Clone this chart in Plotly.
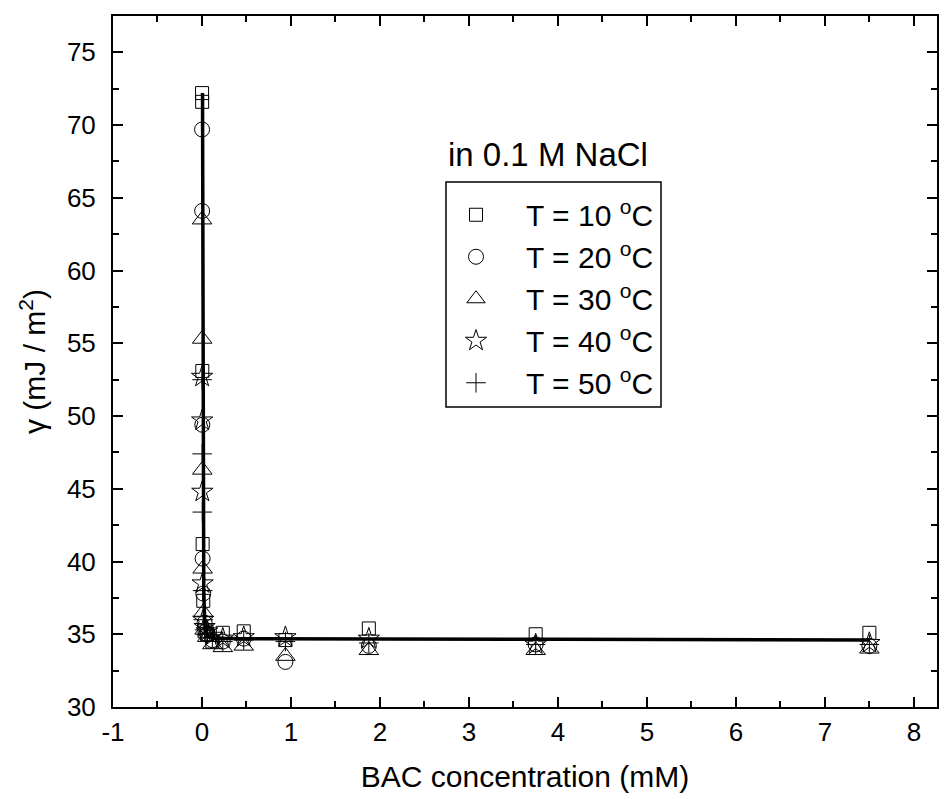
import plotly.graph_objects as go

# BAC concentration (mM)
conc = [7.5, 3.75, 1.875, 0.9375, 0.469, 0.234, 0.117, 0.0586, 0.0293, 0.0146, 0.0073, 0.00366, 0.00183, 0.000916]

g10 = [35.1, 35.0, 35.4, 34.6, 35.2, 35.1, 34.5, 35.0, 35.2, 37.3, 41.2, 53.1, 71.6, 72.2]
g20 = [34.2, 34.3, 34.2, 33.1, 34.7, 34.5, 34.6, 35.0, 35.8, 37.8, 40.2, 49.4, 64.1, 69.7]
g30 = [34.0, 33.9, 33.9, 33.5, 34.2, 34.1, 34.3, 34.8, 35.3, 36.5, 39.5, 46.3, 55.3, 63.5]
g40 = [34.4, 34.3, 34.7, 34.8, 34.8, 34.7, 34.9, 35.2, 35.5, 36.0, 38.5, 44.8, 49.7, 52.7]
g50 = [34.3, 34.3, 34.4, 34.5, 34.6, 34.5, 34.8, 35.0, 35.3, 36.0, 38.0, 43.4, 47.4, 52.5]

fit_x = [0.006, 0.007, 0.008, 0.01, 0.012, 0.015, 0.02, 0.03, 0.05, 0.08, 0.12, 0.5, 1.0, 2.0, 4.0, 7.5]
fit_y = [72.2, 66.0, 60.0, 52.0, 46.0, 41.0, 38.0, 36.0, 35.1, 34.8, 34.72, 34.7, 34.7, 34.68, 34.65, 34.6]

x_ticks = [-1, 0, 1, 2, 3, 4, 5, 6, 7, 8]
x_ticktext = ["-1", "0", "1", "2", "3", "4", "5", "6", "7", "8"]

labels = ["T = 10 <sup>o</sup>C", "T = 20 <sup>o</sup>C", "T = 30 <sup>o</sup>C",
          "T = 40 <sup>o</sup>C", "T = 50 <sup>o</sup>C"]
series = [g10, g20, g30, g40, g50]
symbols = ["square-open", "circle-open", "triangle-up-open", "star-open", "cross-thin-open"]
sizes = [13, 15, 17, 16, 14]

FONT = "Arial, Liberation Sans, sans-serif"

fig = go.Figure()
fig.add_trace(go.Scatter(x=fit_x, y=fit_y, mode="lines", line=dict(color="black", width=3.5),
                         showlegend=False, hoverinfo="skip"))
for i, (lab, ys, sym, sz) in enumerate(zip(labels, series, symbols, sizes)):
    fig.add_trace(go.Scatter(x=conc, y=ys, mode="markers", name=lab, legendgroup=f"g{i}",
                             marker=dict(symbol=sym, size=sz, color="black",
                                         line=dict(color="black", width=1))))

axis_common = dict(showline=True, linecolor="black", linewidth=2, mirror="ticks",
                   ticks="inside", ticklen=10, tickwidth=2, tickcolor="black",
                   showgrid=False, zeroline=False,
                   tickfont=dict(family=FONT, size=26, color="black"))

fig.update_layout(
    width=951, height=799,
    margin=dict(l=113, r=14, t=16, b=92),
    plot_bgcolor="white", paper_bgcolor="white",
    font=dict(family=FONT, color="black"),
    xaxis=dict(range=[-1, 8.26], tickvals=x_ticks, ticktext=x_ticktext,
               minor=dict(dtick=0.5, tick0=0, ticks="inside", ticklen=6, tickwidth=2, tickcolor="black"),
               ticklabelstandoff=1,
               title=dict(text="BAC concentration (mM)", font=dict(family=FONT, size=30), standoff=20),
               **axis_common),
    yaxis=dict(range=[30, 77.5], dtick=5, tick0=30,
               minor=dict(dtick=2.5, ticks="inside", ticklen=6, tickwidth=2, tickcolor="black"),
               ticklabelstandoff=10,
               title=dict(text="γ (mJ / m<sup>2</sup>)", font=dict(family=FONT, size=30), standoff=12),
               **axis_common),
    legend=dict(x=(426 - 113) / 824, y=0.750, xanchor="left", yanchor="top",
                borderwidth=0, bgcolor="rgba(0,0,0,0)",
                font=dict(family=FONT, size=30), tracegroupgap=0,
                itemwidth=90),
    shapes=[dict(type="rect", xref="paper", yref="paper",
                 x0=(446 - 113) / 824, x1=(661 - 113) / 824,
                 y0=(707 - 407) / 691, y1=(707 - 182) / 691,
                 line=dict(color="black", width=1.5), layer="below")],
    annotations=[dict(text="in 0.1 M NaCl", x=(548 - 113) / 824, y=(707 - 155) / 691,
                      xref="paper", yref="paper", xanchor="center", yanchor="middle",
                      showarrow=False, font=dict(family=FONT, size=33))],
)

fig.write_html("out.html")
